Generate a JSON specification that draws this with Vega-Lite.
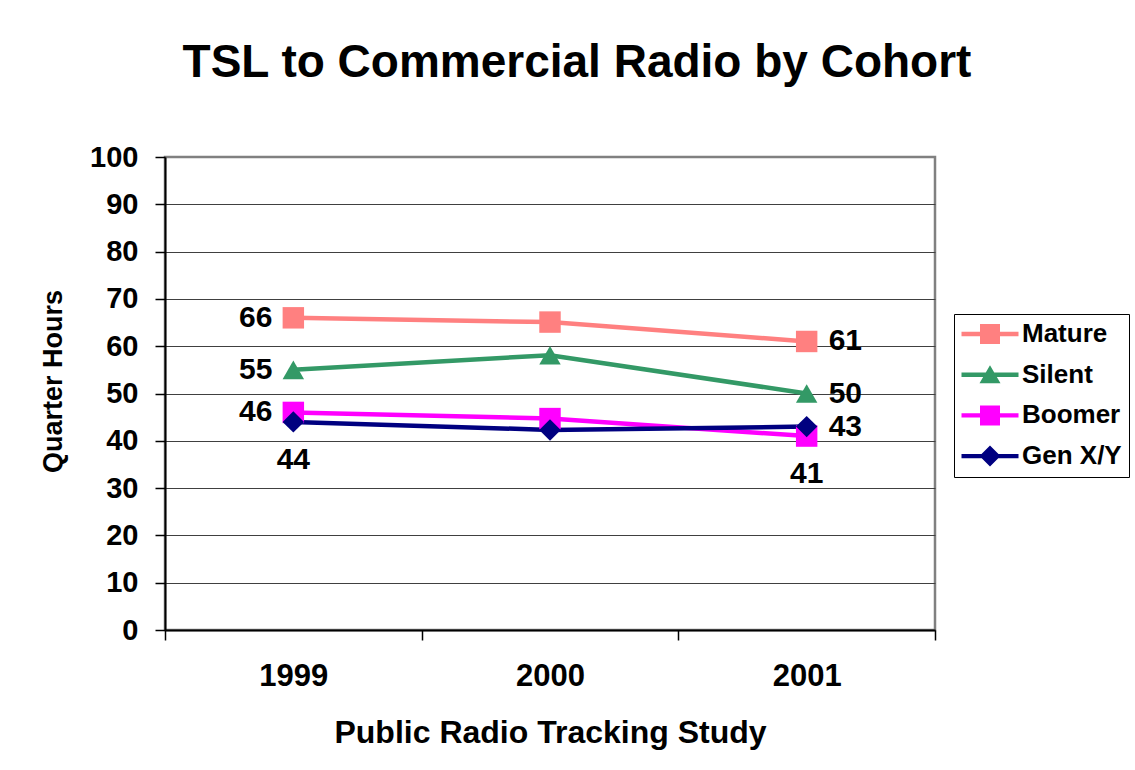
{
  "$schema": "https://vega.github.io/schema/vega-lite/v6.json",
  "autosize": {"type": "none"},
  "width": 770,
  "height": 473,
  "padding": {"left": 165, "top": 157, "right": 200, "bottom": 140},
  "background": "white",
  "title": {
    "text": "TSL to Commercial Radio by Cohort",
    "font": "Liberation Sans",
    "fontSize": 46,
    "fontWeight": "bold",
    "color": "black",
    "anchor": "middle",
    "frame": "group",
    "dx": 27,
    "baseline": "alphabetic",
    "offset": 20
  },
  "config": {
    "font": "Liberation Sans",
    "view": {"stroke": "#808080", "strokeWidth": 2.5},
    "axis": {
      "labelFont": "Liberation Sans",
      "labelFontWeight": "bold",
      "labelColor": "black",
      "titleFont": "Liberation Sans",
      "titleFontWeight": "bold",
      "titleColor": "black",
      "domainColor": "black",
      "domainWidth": 2,
      "tickColor": "black",
      "tickWidth": 1.5,
      "tickSize": 10
    }
  },
  "data": {
    "values": [
      {"year": "1999", "cohort": "Mature", "tsl": 66},
      {"year": "2000", "cohort": "Mature", "tsl": 65.1},
      {"year": "2001", "cohort": "Mature", "tsl": 61},
      {"year": "1999", "cohort": "Silent", "tsl": 55},
      {"year": "2000", "cohort": "Silent", "tsl": 58.1},
      {"year": "2001", "cohort": "Silent", "tsl": 50},
      {"year": "1999", "cohort": "Boomer", "tsl": 46},
      {"year": "2000", "cohort": "Boomer", "tsl": 44.7},
      {"year": "2001", "cohort": "Boomer", "tsl": 41},
      {"year": "1999", "cohort": "Gen X/Y", "tsl": 44},
      {"year": "2000", "cohort": "Gen X/Y", "tsl": 42.3},
      {"year": "2001", "cohort": "Gen X/Y", "tsl": 43}
    ]
  },
  "encoding": {
    "x": {
      "field": "year",
      "type": "ordinal",
      "bandPosition": 0.5,
      "scale": {"type": "band", "paddingInner": 0, "paddingOuter": 0},
      "axis": {
        "title": "Public Radio Tracking Study",
        "titleFontSize": 32,
        "titleBaseline": "alphabetic",
        "titleY": 112,
        "labelFontSize": 31,
        "labelAngle": 0,
        "labelPadding": 21,
        "tickBand": "extent",
        "grid": false
      }
    },
    "y": {
      "field": "tsl",
      "type": "quantitative",
      "scale": {"domain": [0, 100], "nice": false},
      "axis": {
        "title": "Quarter Hours",
        "titleFontSize": 27,
        "titleBaseline": "alphabetic",
        "titleX": -104,
        "titleY": 224,
        "values": [0, 10, 20, 30, 40, 50, 60, 70, 80, 90, 100],
        "labelFontSize": 29,
        "labelPadding": 17,
        "grid": true,
        "gridColor": {"condition": {"test": "datum.value == 100", "value": "#808080"}, "value": "#404040"},
        "gridWidth": 1
      }
    }
  },
  "resolve": {
    "scale": {"color": "independent", "shape": "independent"},
    "legend": {"color": "independent", "shape": "independent"}
  },
  "layer": [
    {
      "mark": {"type": "line", "strokeWidth": 4.5},
      "encoding": {
        "color": {
          "field": "cohort",
          "type": "nominal",
          "scale": {"domain": ["Mature", "Silent", "Boomer", "Gen X/Y"], "range": ["#FF8080", "#339966", "#FF00FF", "#000080"]},
          "legend": null
        }
      }
    },
    {
      "mark": {"type": "point", "filled": true, "opacity": 1, "size": 460},
      "encoding": {
        "color": {
          "field": "cohort",
          "type": "nominal",
          "scale": {"domain": ["Mature", "Silent", "Boomer", "Gen X/Y"], "range": ["#FF8080", "#339966", "#FF00FF", "#000080"]},
          "legend": null
        },
        "shape": {
          "field": "cohort",
          "type": "nominal",
          "scale": {"domain": ["Mature", "Silent", "Boomer", "Gen X/Y"], "range": ["square", "triangle-up", "square", "diamond"]},
          "legend": null
        }
      }
    },
    {
      "transform": [{"filter": "datum.tsl < 0"}],
      "mark": {"type": "point", "filled": true, "opacity": 1},
      "encoding": {
        "color": {
          "field": "cohort",
          "type": "nominal",
          "scale": {"domain": ["Mature", "Silent", "Boomer", "Gen X/Y"], "range": ["#FF8080", "#339966", "#FF00FF", "#000080"]},
          "legend": {
            "orient": "none",
            "legendX": 789,
            "legendY": 157,
            "title": null,
            "symbolSize": 400,
            "symbolStrokeWidth": 0,
            "symbolOpacity": 1,
            "symbolOffset": 16,
            "labelFont": "Liberation Sans",
            "labelFontSize": 26,
            "labelFontWeight": "bold",
            "labelColor": "black",
            "labelOffset": 19,
            "labelLimit": 300,
            "rowPadding": 14.7,
            "padding": 7,
            "strokeColor": "black",
            "fillColor": "white",
            "encode": {"symbols": {"update": {"opacity": {"value": 1}}}}
          }
        },
        "shape": {
          "field": "cohort",
          "type": "nominal",
          "scale": {
            "domain": ["Mature", "Silent", "Boomer", "Gen X/Y"],
            "range": [
              "M-2.85,-0.22H2.85V0.22H-2.85Z M-1,-1H1V1H-1Z",
              "M-2.85,-0.22H2.85V0.22H-2.85Z M0,-0.95L1.05,0.85L-1.05,0.85Z",
              "M-2.85,-0.22H2.85V0.22H-2.85Z M-1,-1H1V1H-1Z",
              "M-2.85,-0.22H2.85V0.22H-2.85Z M0,-1.05L1.05,0L0,1.05L-1.05,0Z"
            ]
          },
          "legend": {
            "orient": "none",
            "legendX": 789,
            "legendY": 157,
            "title": null
          }
        }
      }
    },
    {
      "transform": [{"filter": "datum.year == '1999' && datum.cohort != 'Gen X/Y'"}],
      "mark": {"type": "text", "align": "right", "baseline": "middle", "dx": -21, "font": "Liberation Sans", "fontSize": 30, "fontWeight": "bold", "color": "black"},
      "encoding": {"text": {"field": "tsl", "type": "quantitative", "format": ".0f"}}
    },
    {
      "transform": [{"filter": "datum.year == '2001' && datum.cohort != 'Boomer'"}],
      "mark": {"type": "text", "align": "left", "baseline": "middle", "dx": 22, "font": "Liberation Sans", "fontSize": 30, "fontWeight": "bold", "color": "black"},
      "encoding": {"text": {"field": "tsl", "type": "quantitative", "format": ".0f"}}
    },
    {
      "transform": [{"filter": "(datum.year == '1999' && datum.cohort == 'Gen X/Y') || (datum.year == '2001' && datum.cohort == 'Boomer')"}],
      "mark": {"type": "text", "align": "center", "baseline": "middle", "dy": 38, "font": "Liberation Sans", "fontSize": 30, "fontWeight": "bold", "color": "black"},
      "encoding": {"text": {"field": "tsl", "type": "quantitative", "format": ".0f"}}
    }
  ]
}
